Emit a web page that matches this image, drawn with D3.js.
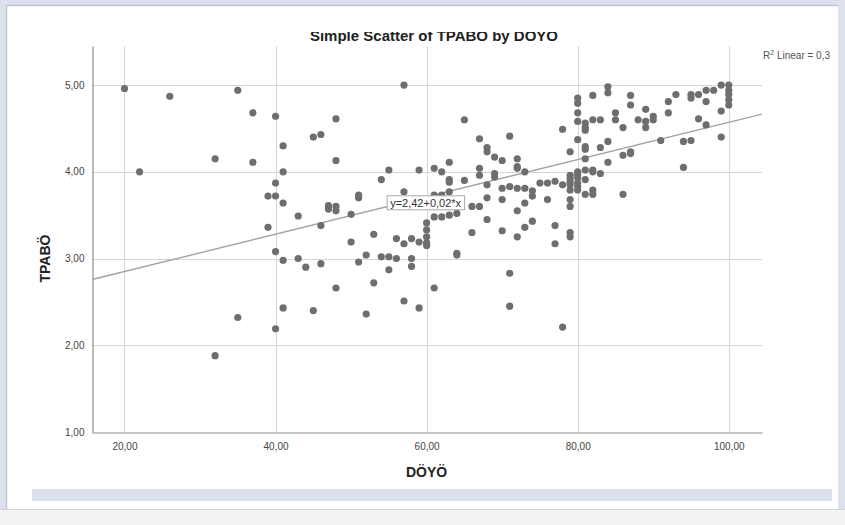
<!DOCTYPE html>
<html>
<head>
<meta charset="utf-8">
<script src="https://cdn.jsdelivr.net/npm/d3@7"></script>
<style>
  html, body { margin: 0; padding: 0; background: #dde0ef; }
  svg { display: block; font-family: "Liberation Sans", Arial, sans-serif; }
</style>
</head>
<body>
<div id="container"></div>
<script>
// DÖYÖ (x) and TPABÖ (y)
const doyo = [
  20, 22, 26, 32, 32, 35, 35, 37, 37, 39, 39,
  40, 40, 40, 40, 40, 41, 41, 41, 41, 41, 43, 43, 44, 45, 45,
  46, 46, 46, 47, 47, 48, 48, 48, 48, 48, 50, 50, 51, 51, 51,
  52, 52, 53, 53, 54, 54, 55, 55, 55, 56, 56, 57, 57, 57, 57,
  58, 58, 58, 59, 59, 59, 60, 60, 60, 60, 60, 61, 61, 61, 61,
  62, 62, 62, 63, 63, 63, 63, 63, 64, 64, 64, 65, 65, 66, 66,
  67, 67, 67, 67, 68, 68, 68, 68, 68, 69, 69, 69, 70, 70, 70, 70,
  71, 71, 71, 71, 72, 72, 72, 72, 72, 72, 73, 73, 73, 73,
  74, 74, 74, 75, 76, 76, 77, 77, 77, 78, 78, 78,
  79, 79, 79, 79, 79, 79, 79, 79, 79, 79,
  80, 80, 80, 80, 80, 80, 80, 80, 80, 80, 80,
  81, 81, 81, 81, 81, 81, 81, 81, 81, 82, 82, 82, 82, 82, 82,
  83, 83, 83, 84, 84, 84, 84, 85, 85, 86, 86, 86, 87, 87, 87, 87,
  88, 89, 89, 89, 90, 90, 91, 92, 92, 93, 94, 94, 95, 95, 95,
  96, 96, 97, 97, 97, 98, 99, 99, 99, 100, 100, 100, 100, 100
]
const tpabo = [
  4.96, 4.00, 4.87, 4.15, 1.88, 4.94, 2.32, 4.68, 4.11, 3.72, 3.36,
  4.64, 3.87, 3.72, 3.08, 2.19, 4.30, 4.00, 3.64, 2.98, 2.43, 3.49, 3.00, 2.90, 4.40, 2.40,
  4.43, 3.38, 2.94, 3.61, 3.57, 4.61, 4.13, 3.60, 3.55, 2.66, 3.51, 3.19, 3.73, 3.70, 2.96,
  3.04, 2.36, 3.28, 2.72, 3.91, 3.02, 4.02, 3.02, 2.87, 3.23, 3.00, 5.00, 3.77, 3.17, 2.51,
  3.23, 3.00, 2.91, 4.02, 3.19, 2.43, 3.41, 3.33, 3.25, 3.18, 3.15, 4.04, 3.73, 3.48, 2.66,
  4.00, 3.73, 3.48, 4.11, 3.91, 3.88, 3.77, 3.50, 3.52, 3.06, 3.04, 4.60, 3.90, 3.60, 3.30,
  4.38, 4.04, 3.96, 3.60, 4.28, 4.23, 3.85, 3.70, 3.45, 4.17, 3.98, 3.94, 4.13, 3.81, 3.68, 3.32,
  4.41, 3.83, 2.83, 2.45, 4.15, 4.06, 4.04, 3.81, 3.55, 3.25, 4.00, 3.81, 3.64, 3.36,
  3.78, 3.72, 3.43, 3.87, 3.87, 3.68, 3.89, 3.38, 3.17, 4.49, 3.85, 2.21,
  4.23, 3.96, 3.92, 3.88, 3.85, 3.79, 3.68, 3.60, 3.30, 3.25,
  4.85, 4.79, 4.68, 4.58, 4.37, 4.00, 3.97, 3.93, 3.87, 3.83, 3.79,
  4.56, 4.51, 4.48, 4.29, 4.26, 4.15, 4.02, 3.91, 3.74, 4.88, 4.60, 4.02, 4.00, 3.79, 3.74,
  4.60, 4.28, 3.98, 4.98, 4.91, 4.35, 4.11, 4.68, 4.60, 4.51, 4.19, 3.74, 4.88, 4.77, 4.23, 4.21,
  4.60, 4.72, 4.58, 4.51, 4.64, 4.60, 4.36, 4.81, 4.68, 4.89, 4.35, 4.05, 4.89, 4.85, 4.36,
  4.89, 4.61, 4.94, 4.81, 4.54, 4.94, 5.00, 4.70, 4.40, 5.00, 4.94, 4.89, 4.83, 4.77
]

const xTicks = [20, 40, 60, 80, 100]
const yTicks = [1, 2, 3, 4, 5]
const xDomain = [15.7, 104.4]
const yDomain = [1, 5.45]

// fit line as printed on the chart
const intercept = 2.42
const slope = 0.0215
const fitLabel = "y=2,42+0,02*x"
// only "0,3" of the R² value is visible, the rest is cut off by the frame
const r2Label = "R2 Linear = 0,3"

const W = 845, H = 525
const margin = {left: 92, right: 83, top: 46, bottom: 93}

const locale = d3.formatLocale({decimal: ",", thousands: ".", grouping: [3], currency: ["", ""]})
const fmt = locale.format(".2f")

const svg = d3.select("#container").append("svg")
  .attr("width", W)
  .attr("height", H)

// page frame
svg.append("rect").attr("width", W).attr("height", H).attr("fill", "#dde0ef")
svg.append("rect").attr("x", 6).attr("y", 5).attr("width", 832).attr("height", 504).attr("fill", "#fff")
svg.append("path").attr("d", "M6.5,509V5.5H838").attr("fill", "none").attr("stroke", "#c5c6cf").attr("stroke-width", 1.5)
svg.append("rect").attr("x", 0).attr("y", 509).attr("width", W).attr("height", 16).attr("fill", "#f3f3f3")
svg.append("line").attr("x1", 0).attr("x2", W).attr("y1", 509.5).attr("y2", 509.5).attr("stroke", "#d2d2d2")
svg.append("rect").attr("x", 32).attr("y", 489).attr("width", 800).attr("height", 12).attr("fill", "#dde0ef")

svg.append("defs").append("clipPath").attr("id", "clip")
  .append("rect").attr("x", 6).attr("y", 32).attr("width", 828).attr("height", 453)

const g = svg.append("g").attr("clip-path", "url(#clip)")

const x = d3.scaleLinear().domain(xDomain).range([margin.left, W - margin.right])
const y = d3.scaleLinear().domain(yDomain).range([H - margin.bottom, margin.top])

// grid
g.append("g").selectAll("line").data(yTicks.slice(1)).join("line")
  .attr("x1", x(xDomain[0])).attr("x2", x(xDomain[1]))
  .attr("y1", d => Math.round(y(d)) + 0.5).attr("y2", d => Math.round(y(d)) + 0.5)
  .attr("stroke", "#d6d6d6")
g.append("g").selectAll("line").data(xTicks).join("line")
  .attr("x1", d => Math.round(x(d)) + 0.5).attr("x2", d => Math.round(x(d)) + 0.5)
  .attr("y1", y(yDomain[0])).attr("y2", y(yDomain[1]))
  .attr("stroke", "#d6d6d6")

// axes
const xAxis = g.append("g")
  .attr("transform", `translate(0,${Math.round(y(yDomain[0])) + 0.5})`)
  .call(d3.axisBottom(x).tickValues(xTicks).tickFormat(fmt).tickSize(0).tickPadding(10))
const yAxis = g.append("g")
  .attr("transform", `translate(${Math.round(x(xDomain[0])) + 0.5},0)`)
  .call(d3.axisLeft(y).tickValues(yTicks).tickFormat(fmt).tickSize(0).tickPadding(8))
;[xAxis, yAxis].forEach(a => {
  a.select(".domain").attr("stroke", "#8c8c8c").attr("stroke-width", 1.2)
  a.selectAll("text").attr("fill", "#444").attr("font-size", 10).attr("font-family", "Liberation Sans, Arial, sans-serif")
})

// fit line
g.append("line")
  .attr("x1", x(xDomain[0])).attr("y1", y(intercept + slope * xDomain[0]))
  .attr("x2", x(xDomain[1])).attr("y2", y(intercept + slope * xDomain[1]))
  .attr("stroke", "#a3a3a3").attr("stroke-width", 1.4)

// points
g.append("g").selectAll("circle").data(doyo).join("circle")
  .attr("cx", d => x(d))
  .attr("cy", (d, i) => y(tpabo[i]))
  .attr("r", 3.6)
  .attr("fill", "#6e6e6e")

// equation label
const lx = x(60) - 1, ly = y(intercept + slope * 60) + 6
const lab = g.append("g").attr("transform", `translate(${lx},${ly})`)
const labText = lab.append("text")
  .attr("text-anchor", "middle").attr("dy", "0.35em")
  .attr("font-size", 11).attr("fill", "#333")
  .text(fitLabel)
const bb = labText.node().getBBox()
lab.insert("rect", "text")
  .attr("x", bb.x - 3).attr("y", bb.y - 1)
  .attr("width", bb.width + 6).attr("height", bb.height + 2)
  .attr("fill", "#fff").attr("stroke", "#aaa")

const r2Text = g.append("text")
  .attr("x", x(xDomain[1]) + 1).attr("y", 59)
  .attr("font-size", 10).attr("fill", "#555")
r2Text.append("tspan").text("R")
r2Text.append("tspan").attr("font-size", 7).attr("dy", -4).text("2")
r2Text.append("tspan").attr("dy", 4).text(r2Label.slice(2))

// titles
g.append("text")
  .attr("x", 434).attr("y", 41)
  .attr("text-anchor", "middle")
  .attr("font-size", 15).attr("font-weight", "bold").attr("fill", "#222")
  .text("Simple Scatter of TPABÖ by DÖYÖ")

g.append("text")
  .attr("x", x(60)).attr("y", 477)
  .attr("text-anchor", "middle")
  .attr("font-size", 14).attr("font-weight", "bold").attr("fill", "#222")
  .text("DÖYÖ")

g.append("text")
  .attr("transform", `translate(50,${y(3)}) rotate(-90)`)
  .attr("text-anchor", "middle")
  .attr("font-size", 14).attr("font-weight", "bold").attr("fill", "#222")
  .text("TPABÖ")
</script>
</body>
</html>
